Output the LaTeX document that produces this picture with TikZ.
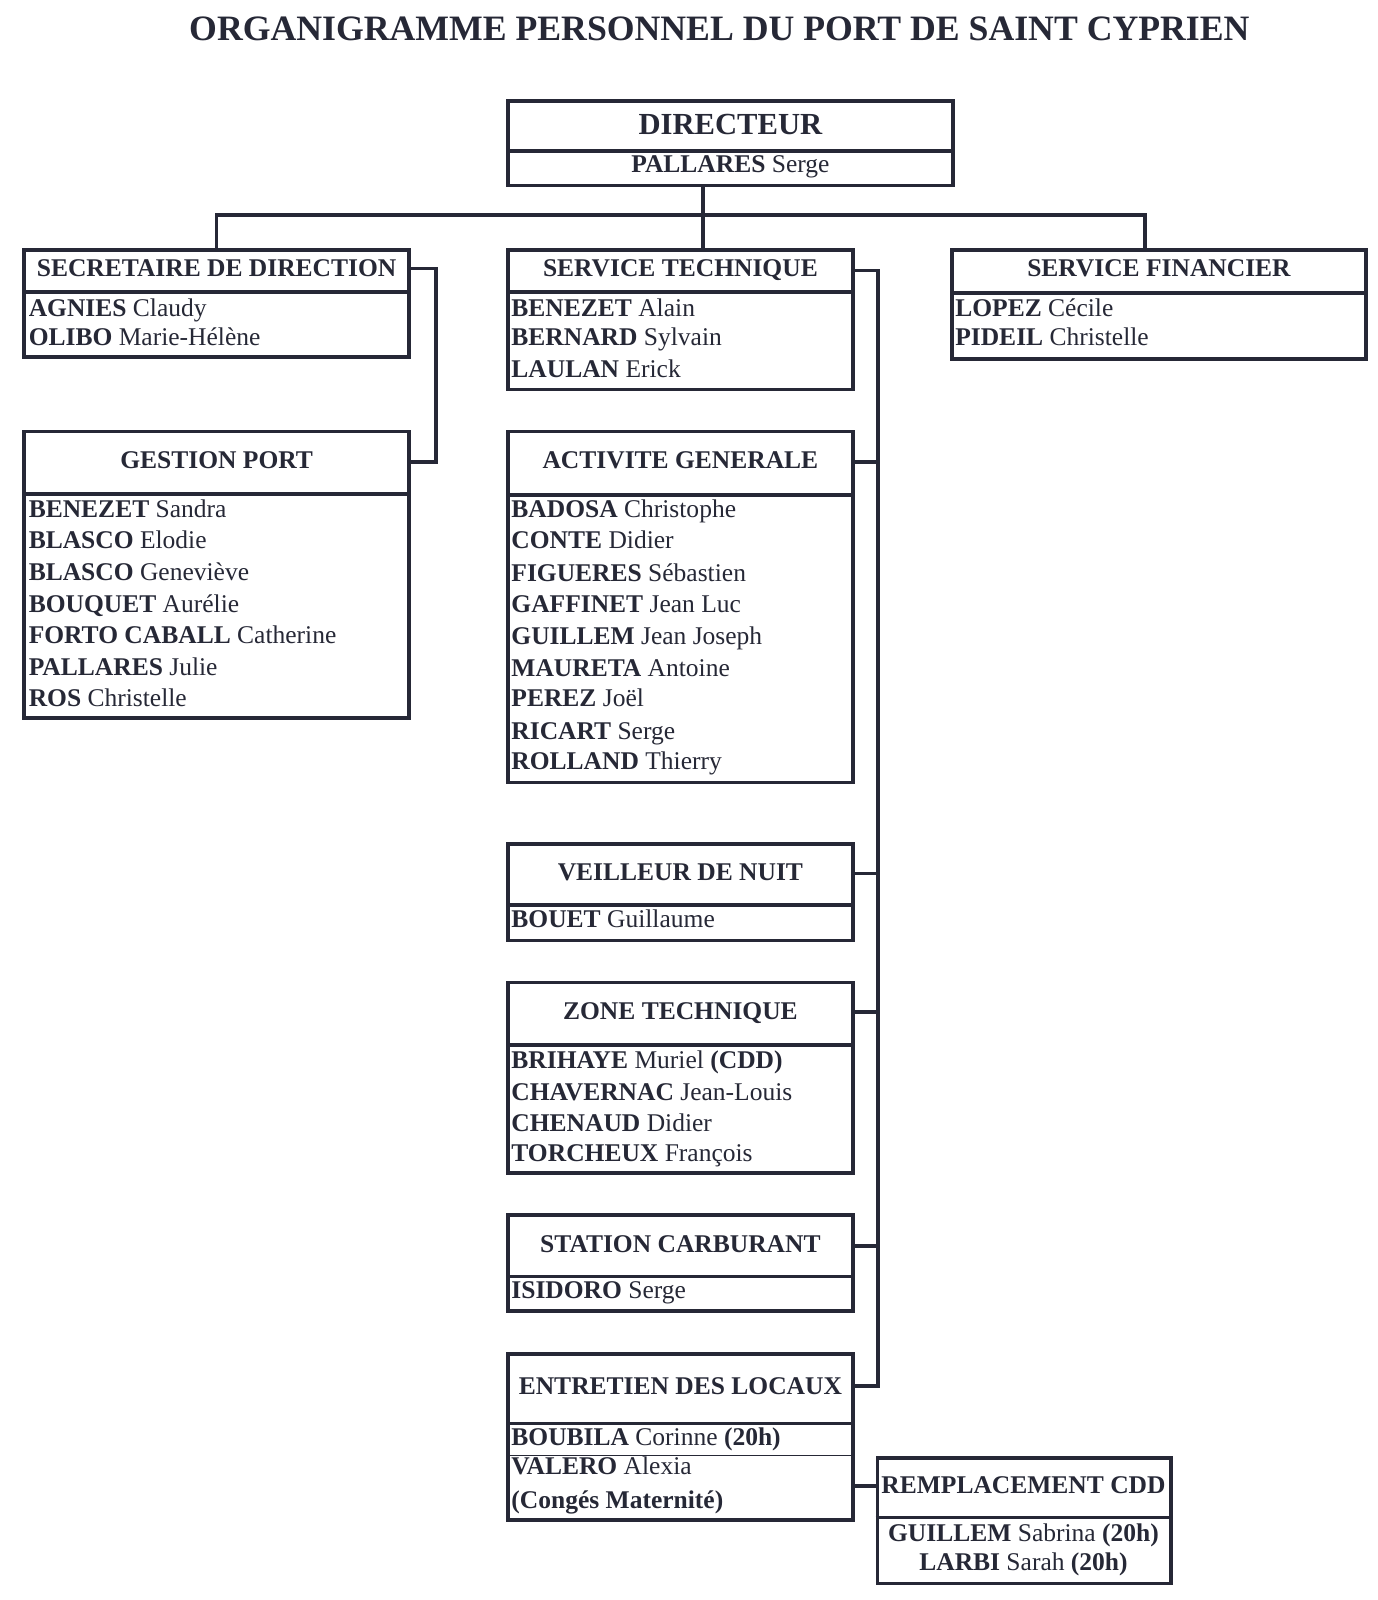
\documentclass[tikz,border=0pt]{standalone}
\usepackage{fontspec}
\setmainfont{Liberation Serif}
\usetikzlibrary{positioning}
\definecolor{ink}{RGB}{38,40,54}

\tikzset{
  box/.style={draw=ink,line width=3.6pt,inner sep=0pt,anchor=north west},
  link/.style={draw=ink,line width=3.6pt},
  head/.style={font=\bfseries\fontsize{25}{30}\selectfont,text=ink,anchor=base,inner sep=0pt},
  staff/.style={font=\fontsize{25}{30}\selectfont,text=ink,anchor=base west,inner sep=0pt},
}

\begin{document}
\begin{tikzpicture}[x=1pt,y=-1pt]
  \path[fill=white,use as bounding box] (0,0) rectangle (1350,1568);
  \node[font=\bfseries\fontsize{35}{40}\selectfont,text=ink,anchor=base] (title) at (705,40) {ORGANIGRAMME PERSONNEL DU PORT DE SAINT CYPRIEN};

  % boxes
  \node[box,minimum width=436pt,minimum height=83pt] (dir) at (496,97) {};
  \node[box,minimum width=377pt,minimum height=105pt] (sec) at (22,243) {};
  \node[box,minimum width=377pt,minimum height=281pt] (gest) at (22,421) {};
  \node[box,minimum width=338pt,minimum height=137pt] (tech) at (496,243) {};
  \node[box,minimum width=406pt,minimum height=107pt] (fin) at (931,243) {};
  \node[box,minimum width=338pt,minimum height=344pt] (act) at (496,421) {};
  \node[box,minimum width=338pt,minimum height=95pt] (veil) at (496,825) {};
  \node[box,minimum width=338pt,minimum height=187pt] (zone) at (496,961) {};
  \node[box,minimum width=338pt,minimum height=94pt] (stat) at (496,1189) {};
  \node[box,minimum width=338pt,minimum height=163pt] (ent) at (496,1325) {};
  \node[box,minimum width=288pt,minimum height=123pt] (rem) at (858,1427) {};

  % header rules
  \draw[link] ([yshift=-51pt]dir.north west) -- ([yshift=-51pt]dir.north east);
  \draw[link] ([yshift=-43pt]sec.north west) -- ([yshift=-43pt]sec.north east);
  \draw[link] ([yshift=-63pt]gest.north west) -- ([yshift=-63pt]gest.north east);
  \draw[link] ([yshift=-43pt]tech.north west) -- ([yshift=-43pt]tech.north east);
  \draw[link] ([yshift=-44pt]fin.north west) -- ([yshift=-44pt]fin.north east);
  \draw[link] ([yshift=-64pt]act.north west) -- ([yshift=-64pt]act.north east);
  \draw[link] ([yshift=-62pt]veil.north west) -- ([yshift=-62pt]veil.north east);
  \draw[link] ([yshift=-63pt]zone.north west) -- ([yshift=-63pt]zone.north east);
  \draw[link] ([yshift=-62pt]stat.north west) -- ([yshift=-62pt]stat.north east);
  \draw[link] ([yshift=-70pt]ent.north west) -- ([yshift=-70pt]ent.north east);
  \draw[draw=ink,line width=1.2pt] ([yshift=-101pt]ent.north west) -- ([yshift=-101pt]ent.north east);
  \draw[link] ([yshift=-60pt]rem.north west) -- ([yshift=-60pt]rem.north east);

  % headers
  \node[head,font=\bfseries\fontsize{30}{34}\selectfont] (dirH) at ([yshift=-35pt]dir.north) {DIRECTEUR};
  \node[head] (dirN) at ([yshift=-72pt]dir.north) {\textbf{PALLARES} \mdseries Serge};
  \node[head] (secH) at ([yshift=-28pt]sec.north) {SECRETAIRE DE DIRECTION};
  \node[head] (gestH) at ([yshift=-38pt]gest.north) {GESTION PORT};
  \node[head] (techH) at ([yshift=-28pt]tech.north) {SERVICE TECHNIQUE};
  \node[head] (finH) at ([yshift=-28pt]fin.north) {SERVICE FINANCIER};
  \node[head] (actH) at ([yshift=-38pt]act.north) {ACTIVITE GENERALE};
  \node[head] (veilH) at ([yshift=-38pt]veil.north) {VEILLEUR DE NUIT};
  \node[head] (zoneH) at ([yshift=-38pt]zone.north) {ZONE TECHNIQUE};
  \node[head] (statH) at ([yshift=-38pt]stat.north) {STATION CARBURANT};
  \node[head] (entH) at ([yshift=-42pt]ent.north) {ENTRETIEN DES LOCAUX};
  \node[head] (remH) at (1003,1464) {REMPLACEMENT CDD};

  % secretariat
  \node[staff] (sec1) at (28,310) {\textbf{AGNIES} Claudy};
  \node[staff] (sec2) at (28,339) {\textbf{OLIBO} Marie-Hélène};
  % gestion port
  \node[staff] (gest1) at (28,507) {\textbf{BENEZET} Sandra};
  \node[staff] (gest2) at (28,538) {\textbf{BLASCO} Elodie};
  \node[staff] (gest3) at (28,569) {\textbf{BLASCO} Geneviève};
  \node[staff] (gest4) at (28,600) {\textbf{BOUQUET} Aurélie};
  \node[staff] (gest5) at (28,631) {\textbf{FORTO CABALL} Catherine};
  \node[staff] (gest6) at (28,662) {\textbf{PALLARES} Julie};
  \node[staff] (gest7) at (28,692) {\textbf{ROS} Christelle};
  % service technique
  \node[staff] (tech1) at (501,310) {\textbf{BENEZET} Alain};
  \node[staff] (tech2) at (501,339) {\textbf{BERNARD} Sylvain};
  \node[staff] (tech3) at (501,370) {\textbf{LAULAN} Erick};
  % service financier
  \node[staff] (fin1) at (936,310) {\textbf{LOPEZ} Cécile};
  \node[staff] (fin2) at (936,339) {\textbf{PIDEIL} Christelle};
  % activite generale
  \node[staff] (act1) at (501,507) {\textbf{BADOSA} Christophe};
  \node[staff] (act2) at (501,538) {\textbf{CONTE} Didier};
  \node[staff] (act3) at (501,570) {\textbf{FIGUERES} Sébastien};
  \node[staff] (act4) at (501,600) {\textbf{GAFFINET} Jean Luc};
  \node[staff] (act5) at (501,632) {\textbf{GUILLEM} Jean Joseph};
  \node[staff] (act6) at (501,663) {\textbf{MAURETA} Antoine};
  \node[staff] (act7) at (501,692) {\textbf{PEREZ} Joël};
  \node[staff] (act8) at (501,725) {\textbf{RICART} Serge};
  \node[staff] (act9) at (501,754) {\textbf{ROLLAND} Thierry};
  % veilleur, zone, station
  \node[staff] (veil1) at (501,909) {\textbf{BOUET} Guillaume};
  \node[staff] (zone1) at (501,1047) {\textbf{BRIHAYE} Muriel \textbf{(CDD)}};
  \node[staff] (zone2) at (501,1078) {\textbf{CHAVERNAC} Jean-Louis};
  \node[staff] (zone3) at (501,1109) {\textbf{CHENAUD} Didier};
  \node[staff] (zone4) at (501,1138) {\textbf{TORCHEUX} François};
  \node[staff] (stat1) at (501,1273) {\textbf{ISIDORO} Serge};
  % entretien
  \node[staff] (ent1) at (501,1417) {\textbf{BOUBILA} Corinne \textbf{(20h)}};
  \node[staff] (ent2) at (501,1445) {\textbf{VALERO} Alexia};
  \node[staff] (ent3) at (501,1478) {\textbf{(Congés Maternité)}};
  % remplacement
  \node[staff,anchor=base] (rem1) at (1003,1511) {\textbf{GUILLEM} Sabrina \textbf{(20h)}};
  \node[staff,anchor=base] (rem2) at (1003,1539) {\textbf{LARBI} Sarah \textbf{(20h)}};

  % connectors
  \coordinate (hub) at (689,211);
  \coordinate (finin) at (1122,243);
  \draw[link] (hub |- dir.south) -- (hub |- tech.north);
  \draw[link] (sec.north) |- (hub) -| (finin);
  \draw[link] ([yshift=-20pt]sec.north east) -| ([xshift=25pt,yshift=-32pt]gest.north east) -- ([yshift=-32pt]gest.north east);
  \draw[link] ([yshift=-22pt]tech.north east) -| ([xshift=23pt,yshift=-33pt]ent.north east) -- ([yshift=-33pt]ent.north east);
  \draw[link] ([yshift=-32pt]act.north east) -- ++(23,0);
  \draw[link] ([yshift=-31pt]veil.north east) -- ++(23,0);
  \draw[link] ([yshift=-31pt]zone.north east) -- ++(23,0);
  \draw[link] ([yshift=-32pt]stat.north east) -- ++(23,0);
  \draw[link] ([yshift=-29pt]rem.north west) -- ++(-24,0);
\end{tikzpicture}
\end{document}
